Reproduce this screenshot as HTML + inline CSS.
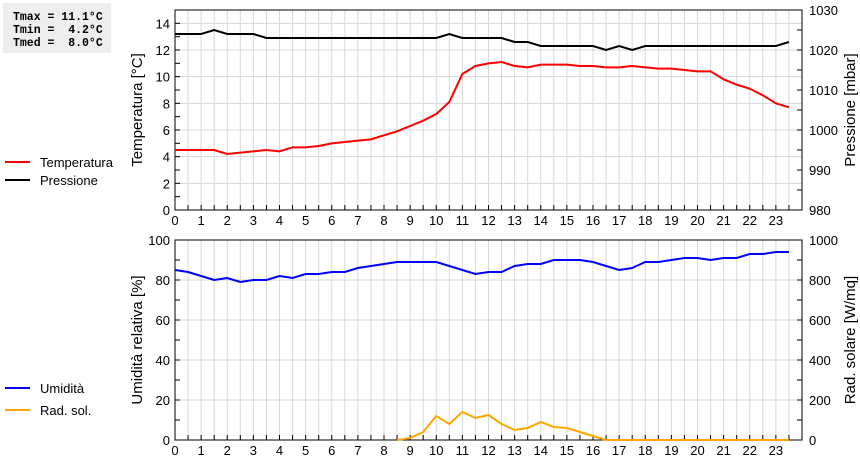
<!DOCTYPE html>
<html><head><meta charset="utf-8"><style>
body{margin:0;background:#fff;width:860px;height:460px;overflow:hidden}
svg{display:block;font-family:"Liberation Sans",sans-serif}
</style></head><body>
<svg id="c" width="860" height="460">
<rect x="3" y="3" width="108" height="50" fill="#eeeeee"/>
<g font-family="Liberation Mono,monospace" font-weight="bold" font-size="11.5" fill="#000">
<text x="13" y="20" xml:space="preserve">Tmax = 11.1°C</text>
<text x="13" y="33" xml:space="preserve">Tmin =  4.2°C</text>
<text x="13" y="46" xml:space="preserve">Tmed =  8.0°C</text>
</g>
<g id="legend" font-size="13"></g>
<g id="gtop"></g><g id="gbot"></g>
</svg>
<script>
const hours=[];for(let i=0;i<48;i++)hours.push(i/2);
const temperature=[4.5,4.5,4.5,4.5,4.2,4.3,4.4,4.5,4.4,4.7,4.7,4.8,5.0,5.1,5.2,5.3,5.6,5.9,6.3,6.7,7.2,8.1,10.2,10.8,11.0,11.1,10.8,10.7,10.9,10.9,10.9,10.8,10.8,10.7,10.7,10.8,10.7,10.6,10.6,10.5,10.4,10.4,9.8,9.4,9.1,8.6,8.0,7.7];
const pressure=[1024,1024,1024,1025,1024,1024,1024,1023,1023,1023,1023,1023,1023,1023,1023,1023,1023,1023,1023,1023,1023,1024,1023,1023,1023,1023,1022,1022,1021,1021,1021,1021,1021,1020,1021,1020,1021,1021,1021,1021,1021,1021,1021,1021,1021,1021,1021,1022];
const humidity=[85,84,82,80,81,79,80,80,82,81,83,83,84,84,86,87,88,89,89,89,89,87,85,83,84,84,87,88,88,90,90,90,89,87,85,86,89,89,90,91,91,90,91,91,93,93,94,94];
const solarHours=[8.5,9,9.5,10,10.5,11,11.5,12,12.5,13,13.5,14,14.5,15,15.5,16,16.5,17,23.5];
const solar=[0,10,40,120,80,140,110,125,80,50,60,90,65,60,40,20,0,0,0];
const xTicks=[0,1,2,3,4,5,6,7,8,9,10,11,12,13,14,15,16,17,18,19,20,21,22,23];
const tempTicks=[0,2,4,6,8,10,12,14];
const presTicks=[980,990,1000,1010,1020,1030];
const humTicks=[0,20,40,60,80,100];
const solTicks=[0,200,400,600,800,1000];

const NS="http://www.w3.org/2000/svg";
const X0=175,X1=802;
const xs=h=>X0+h*(X1-X0)/24;
function mk(p,t,a){const e=document.createElementNS(NS,t);for(const k in a)e.setAttribute(k,a[k]);p.appendChild(e);return e;}
function axisY(y0,y1,min,max){return v=>y1-(v-min)/(max-min)*(y1-y0);}
function panel(g,pt,pb,lmin,lmax,lTicks,lMinor,rTicks,rMinor,rmin,rmax,ltitle,rtitle,pfx){
  const yl=axisY(pt,pb,lmin,lmax),yr=axisY(pt,pb,rmin,rmax);
  for(let i=1;i<48;i++){const l=mk(g,'line',{x1:xs(i/2),x2:xs(i/2),y1:pt,y2:pb,stroke:'#d8d8d8'});
  
  }
  lTicks.forEach(v=>{if(v>lmin&&v<lmax){const l=mk(g,'line',{x1:X0,x2:X1,y1:yl(v),y2:yl(v),stroke:'#d8d8d8'});
  
  }});
  for(let v=lmin;v<=lmax;v+=lMinor){mk(g,'line',{x1:X0,x2:X0+5,y1:yl(v),y2:yl(v),stroke:'#000'});}
  for(let v=rmin;v<=rmax;v+=rMinor){mk(g,'line',{x1:X1-5,x2:X1,y1:yr(v),y2:yr(v),stroke:'#000'});}
  for(let i=0;i<=48;i++){mk(g,'line',{x1:xs(i/2),x2:xs(i/2),y1:pb-5,y2:pb,stroke:'#000'});}
  const fr=mk(g,'rect',{x:X0,y:pt,width:X1-X0,height:pb-pt,fill:'none',stroke:'#000'});
  
  
  lTicks.forEach(v=>{const t=mk(g,'text',{x:X0-5,y:yl(v)+5,'text-anchor':'end','font-size':13});t.textContent=v;
  
  });
  rTicks.forEach(v=>{const t=mk(g,'text',{x:X1+7,y:yr(v)+5,'font-size':13});t.textContent=v;
  
  });
  xTicks.forEach(v=>{const t=mk(g,'text',{x:xs(v),y:pb+15,'text-anchor':'middle','font-size':13});t.textContent=v;
  
  });
  const lt=mk(g,'text',{transform:`translate(142,${(pt+pb)/2}) rotate(-90)`,'text-anchor':'middle','font-size':15});lt.textContent=ltitle;
  
  
  const rt=mk(g,'text',{transform:`translate(855,${(pt+pb)/2}) rotate(-90)`,'text-anchor':'middle','font-size':15});rt.textContent=rtitle;
  
  
  return {yl,yr};
}
function line(g,xv,yv,fn,color,name){
  const p=mk(g,'polyline',{points:xv.map((h,i)=>xs(h)+','+fn(yv[i])).join(' '),fill:'none',stroke:color,'stroke-width':2});
  
  
}
const gTop=document.getElementById('gtop'),gBot=document.getElementById('gbot');
const A=panel(gTop,10,210,0,15,tempTicks,1,presTicks,5,980,1030,'Temperatura [°C]','Pressione [mbar]','top');
line(gTop,hours,pressure,A.yr,'#000','pressure-line');
line(gTop,hours,temperature,A.yl,'#f00','temperature-line');
const B=panel(gBot,240,440,0,100,humTicks,10,solTicks,100,0,1000,'Umidità relativa [%]','Rad. solare [W/mq]','bot');
line(gBot,solarHours,solar,B.yr,'#ffa500','solar-line');
line(gBot,hours,humidity,B.yl,'#00f','humidity-line');
const lg=document.getElementById('legend');
[[162,'#f00','Temperatura'],[180,'#000','Pressione'],[388,'#00f','Umidità'],[410,'#ffa500','Rad. sol.']].forEach(([y,c,t])=>{
  const l=mk(lg,'line',{x1:5,x2:30,y1:y,y2:y,stroke:c,'stroke-width':2});
  
  
  const tx=mk(lg,'text',{x:40,y:y+5});tx.textContent=t;
  
  
});
</script>
</body></html>
